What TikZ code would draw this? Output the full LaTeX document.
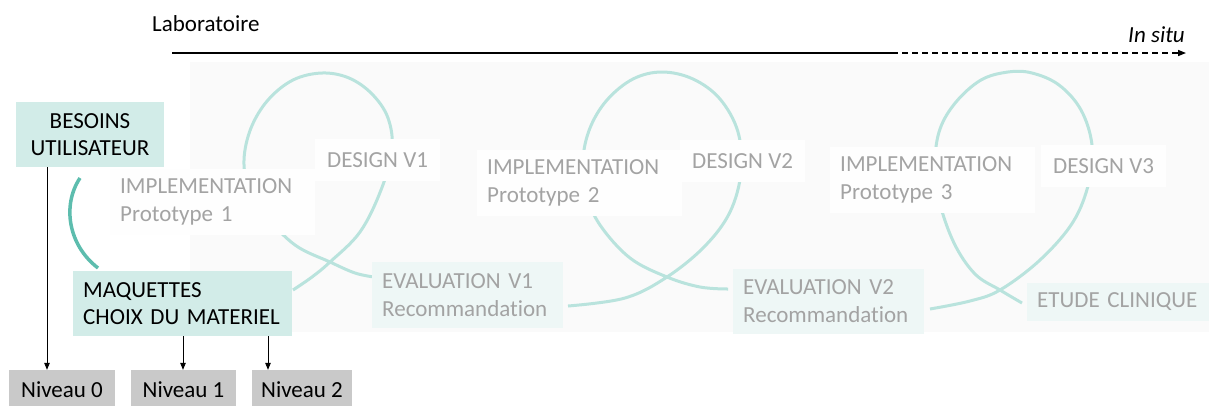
\documentclass[tikz,border=0pt]{standalone}
\usepackage{fontspec}
\setmainfont{Carlito}[Ligatures=NoCommon]
\usetikzlibrary{arrows.meta}
\definecolor{loopc}{HTML}{B9E3DD}
\definecolor{darkteal}{HTML}{5DBDAE}
\definecolor{boxteal}{HTML}{D2ECE8}
\definecolor{paleteal}{HTML}{EEF7F6}
\definecolor{labgray}{HTML}{A3A3A3}
\definecolor{nivgray}{HTML}{C9C9C9}
\definecolor{bggray}{HTML}{FAFAFA}
\definecolor{lblbg}{HTML}{FEFEFE}
\tikzset{
  txt/.style={font=\fontsize{23}{28}\selectfont, inner sep=0pt},
  tealbox/.style={txt, fill=boxteal, text=black},
  gbox/.style={txt, fill=lblbg, text=labgray, align=left, anchor=west, inner xsep=10pt},
  pbox/.style={txt, fill=paleteal, text=labgray, align=left, anchor=west, inner xsep=10pt},
  nivbox/.style={txt, fill=nivgray, text=black, minimum height=40pt},
  arr/.style={-{Triangle[length=7pt,width=5.5pt]}, line width=0.8pt, draw=black},
  loopline/.style={draw=loopc, line width=3pt},
}
\begin{document}
\begin{tikzpicture}[x=1pt,y=-1pt]
\useasboundingbox (0,0) rectangle (1209,405);
\fill[bggray] (190,62) rectangle (1209,332);

% timeline
\node[txt, anchor=west] (lab) at (152,24) {Laboratoire};
\node[txt, anchor=east] (situ) at (1185,35) {\itshape In situ};
\coordinate (ta) at (172,53);
\coordinate (tm) at (892,53);
\coordinate (tb) at (1186,53);
\draw[line width=1.5pt] (ta) -- (tm);
\draw[line width=1.5pt, dash pattern=on 6pt off 4pt, -{Triangle[length=8pt,width=6pt]}] (tm) -- (tb);

% loops
\draw[loopline] plot[smooth, tension=0.6] coordinates {
 (293,290) (312,277) (330,262) (360,232) (381,190) (392,150) (388,118) (372,94)
 (349,78) (322,73) (293,80) (268,100) (251,128) (244,160) (249,190) (265,215)
 (295,245) (330,262) (355,273) (374,277)};
\draw[loopline] plot[smooth, tension=0.6] coordinates {
 (568,306) (625,298) (667,277) (705,246) (730,212) (741,172) (738,132) (720,99)
 (693,79) (662,72) (633,79) (607,100) (590,128) (583,160) (587,195) (600,225)
 (630,258) (667,277) (700,287) (728,289)};
\draw[loopline] plot[smooth, tension=0.6] coordinates {
 (930,309) (970,301) (1000,290) (1040,260) (1073,222) (1089,182) (1092,145) (1081,110)
 (1059,85) (1032,73) (1008,72) (981,80) (956,102) (940,129) (935,162) (939,200)
 (954,243) (975,274) (1000,290) (1022,303)};

% label boxes
\node[gbox, text width=185pt, minimum height=66pt] (impl1) at (110,202) {IMPLEMENTATION\\Prototype 1};
\node[gbox, inner xsep=12pt, minimum height=42pt] (des1) at (315,160) {DESIGN V1};
\node[pbox, text width=171pt, minimum height=66pt] (eval1) at (372,295) {EVALUATION V1\\Recommandation};
\node[gbox, text width=185pt, minimum height=66pt] (impl2) at (477,182.5) {IMPLEMENTATION\\Prototype 2};
\node[gbox, inner xsep=12pt, minimum height=42pt] (des2) at (680,161) {DESIGN V2};
\node[pbox, text width=171pt, minimum height=65pt] (eval2) at (733,301.5) {EVALUATION V2\\Recommandation};
\node[gbox, text width=185pt, minimum height=66pt] (impl3) at (830,179.5) {IMPLEMENTATION\\Prototype 3};
\node[gbox, inner xsep=12pt, minimum height=42pt] (des3) at (1041,166) {DESIGN V3};
\node[pbox, text width=180pt, minimum height=38pt] (etude) at (1027,302) {ETUDE CLINIQUE};

% left part
\draw[darkteal, line width=3.5pt] (80,178) .. controls (62,205) and (68,245) .. (98,268);
\node[tealbox, align=center, font=\fontsize{23}{27}\selectfont, minimum width=148pt, minimum height=65pt] (besoins) at (90,134.5) {BESOINS\\UTILISATEUR};
\node[tealbox, align=left, anchor=west, font=\fontsize{23}{27}\selectfont, inner xsep=10pt, text width=199pt, minimum height=65pt] (maq) at (73,303.5) {MAQUETTES\\CHOIX DU MATERIEL};

\node[nivbox, minimum width=106pt] (n0) at (62,390) {Niveau 0};
\node[nivbox, minimum width=105pt] (n1) at (183.5,390) {Niveau 1};
\node[nivbox, minimum width=100pt] (n2) at (302,390) {Niveau 2};

\coordinate (x0) at (47,0);
\coordinate (x1) at (183,0);
\coordinate (x2) at (268,0);
\draw[arr] (besoins.south -| x0) -- (n0.north -| x0);
\draw[arr] (maq.south -| x1) -- (n1.north -| x1);
\draw[arr] (maq.south -| x2) -- (n2.north -| x2);
\end{tikzpicture}
\end{document}
